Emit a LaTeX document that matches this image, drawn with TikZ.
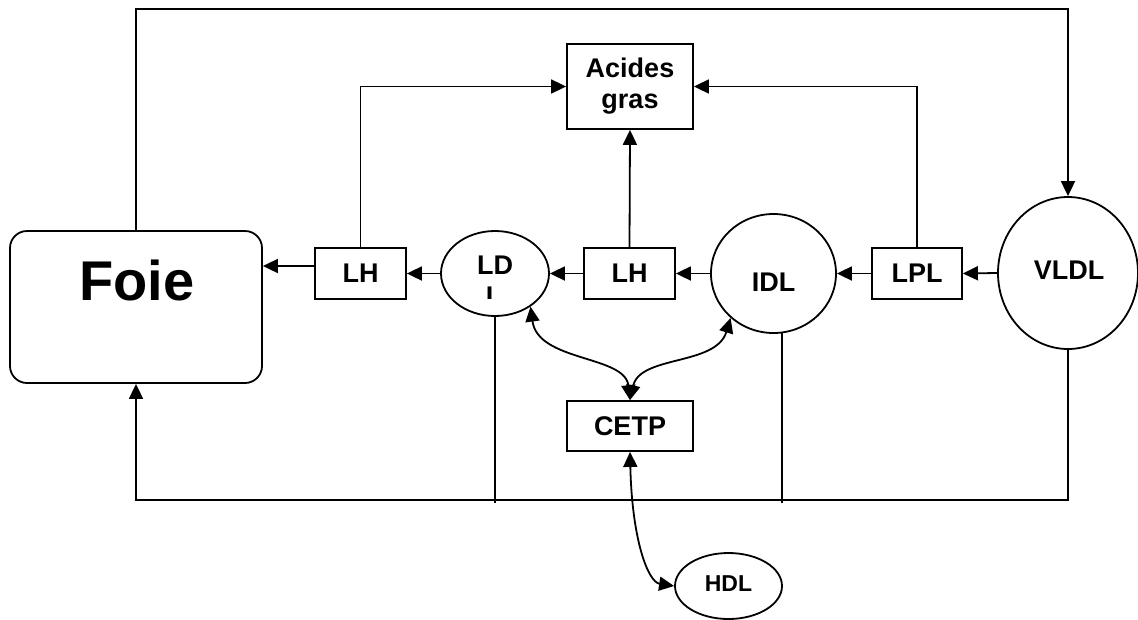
\documentclass[tikz,border=0pt]{standalone}
\usepackage{fontspec}
\setmainfont{Liberation Sans}
\usetikzlibrary{arrows.meta,shapes.geometric}
\begin{document}
\begin{tikzpicture}[x=1pt,y=-1pt,line width=1.8pt,
  box/.style={draw,rectangle,inner sep=0pt,align=center,font=\fontsize{27}{31}\selectfont\bfseries},
  oval/.style={draw,ellipse,inner sep=0pt},
  lbl/.style={inner sep=0pt,font=\fontsize{27}{31}\selectfont\bfseries},
  arr/.style={-{Triangle[length=15pt,width=14pt]}},
  darr/.style={{Triangle[length=15pt,width=14pt]}-{Triangle[length=15pt,width=14pt]}}]
\useasboundingbox (0,0) rectangle (1138,619);
% nodes
\node[draw,rounded corners=17pt,minimum width=252pt,minimum height=152pt,inner sep=0pt] (foie) at (136,307) {};
\node[lbl,font=\fontsize{56}{60}\selectfont\bfseries] (foietxt) at (137,280.5) {Foie};
\node[box,minimum width=91pt,minimum height=51pt] (lh1) at (360.5,273.5) {LH};
\node[oval,minimum width=108pt,minimum height=85pt] (ldl) at (495,273.5) {};
\node[lbl] (ldltxt) at (495,265) {LD};
\begin{scope}
  \clip (470,280) rectangle (520,298);
  \node[lbl] (ldlcut) at (494,296.7) {L};
\end{scope}
\node[box,minimum width=91pt,minimum height=51pt] (lh2) at (629.5,273.5) {LH};
\node[oval,minimum width=125pt,minimum height=119pt] (idl) at (773.5,273.5) {};
\node[lbl] (idltxt) at (773.5,282) {IDL};
\node[box,minimum width=90pt,minimum height=51pt] (lpl) at (917,273.5) {LPL};
\node[oval,minimum width=140pt,minimum height=152pt] (vldl) at (1068,273) {};
\node[lbl] (vldltxt) at (1069,270) {VLDL};
\node[box,minimum width=126pt,minimum height=85pt] (acides) at (630,86.5) {Acides\\gras};
\node[box,minimum width=126pt,minimum height=50pt] (cetp) at (630,426) {CETP};
\node[oval,minimum width=107pt,minimum height=66pt] (hdl) at (728.5,586) {};
\node[lbl,font=\fontsize{23}{27}\selectfont\bfseries] (hdltxt) at (728.5,584) {HDL};
% helper coordinates
\coordinate (top) at (0,9);
\coordinate (yf) at (0,266);
\coordinate (base) at (0,500);
\coordinate (base2) at (0,503);
% connectors
\draw[arr] (foie.north) -- (foie.north |- top) -| (vldl.north);
\draw[arr] (lh1.west |- yf) -- (foie.east |- yf);
\draw[arr] (ldl.west) -- (lh1.east);
\draw[arr] (lh2.west) -- (ldl.east);
\draw[arr] (idl.west) -- (lh2.east);
\draw[arr] (lpl.west) -- (idl.east);
\draw[arr] (vldl.west) -- (lpl.east);
\draw[arr] (lh1.north) |- (acides.west);
\draw[arr] (lpl.north) |- (acides.east);
\draw[arr] (lh2.north) -- (acides.south);
\draw[darr] (ldl.-43) .. controls (538,362) and (625,355) .. (cetp.north);
\draw[darr] (idl.-134) .. controls (716,366) and (640,355) .. (cetp.north);
\draw[darr] (cetp.south) .. controls (632,540) and (648,582) .. (hdl.west);
\draw[arr] (vldl.south) -- (vldl.south |- base) -| (foie.south);
\draw (ldl.south) -- (ldl.south |- base2);
\draw (idl.-82) -- (idl.-82 |- base2);
\end{tikzpicture}
\end{document}
